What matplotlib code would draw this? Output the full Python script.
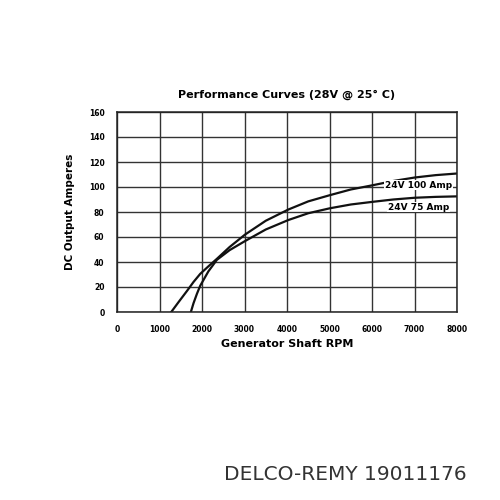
import matplotlib
matplotlib.use("Agg")
import matplotlib.pyplot as plt

rpm_100 = [1276, 1450, 1650, 1800, 1958, 2150, 2349, 2650, 3015, 3500, 4033, 4500, 5012, 5500, 6030, 6500, 7008, 7500, 8000]
amp_100 = [0, 8, 17, 24, 30.5, 36.5, 42.5, 52, 62, 73, 82, 88.5, 93.5, 98, 101.5, 104.8, 107.6, 109.5, 110.8]
rpm_75 = [1738, 1800, 1880, 1958, 2150, 2349, 2650, 3015, 3500, 4033, 4500, 5012, 5500, 6030, 6500, 7008, 7500, 8000]
amp_75 = [0, 7, 14.5, 21, 32.5, 41.7, 49.5, 56.8, 66, 73.6, 79, 83, 86, 88.2, 90, 91.4, 92.1, 92.5]

x_ticks = list(range(0, 8001, 1000))
y_ticks = list(range(0, 161, 20))

fig = plt.figure(figsize=(5, 5), dpi=100)
ax = fig.add_axes([0.234, 0.376, 0.68, 0.4])

ax.plot(rpm_100, amp_100, color="#111111", lw=1.6)
ax.plot(rpm_75, amp_75, color="#111111", lw=1.6)

ax.set_xlim(0, 8000)
ax.set_ylim(0, 160)
ax.set_xticks(x_ticks)
ax.set_yticks(y_ticks)
ax.grid(True, color="#333333", lw=1.0)
for s in ax.spines.values():
    s.set_color("#222222")
    s.set_linewidth(1.1)
ax.tick_params(length=0, labelsize=5.5, pad=9)
for lab in ax.get_xticklabels() + ax.get_yticklabels():
    lab.set_fontweight("bold")

ax.text(7100, 101.5, "24V 100 Amp", fontsize=6.5, fontweight="bold", ha="center", va="center",
        bbox=dict(facecolor="white", edgecolor="none", pad=0.5))
ax.text(7100, 84, "24V 75 Amp", fontsize=6.5, fontweight="bold", ha="center", va="center",
        bbox=dict(facecolor="white", edgecolor="none", pad=0.5))

ax.set_title("Performance Curves (28V @ 25° C)", fontsize=8, fontweight="bold", pad=10)
ax.set_xlabel("Generator Shaft RPM", fontsize=8, fontweight="bold", labelpad=4)
ax.set_ylabel("DC Output Amperes", fontsize=7.5, fontweight="bold", labelpad=10)

fig.text(0.69, 0.052, "DELCO-REMY 19011176", fontsize=14.5, color="#333333", ha="center", va="center")

fig.savefig("out.png", dpi=100, facecolor="white")
